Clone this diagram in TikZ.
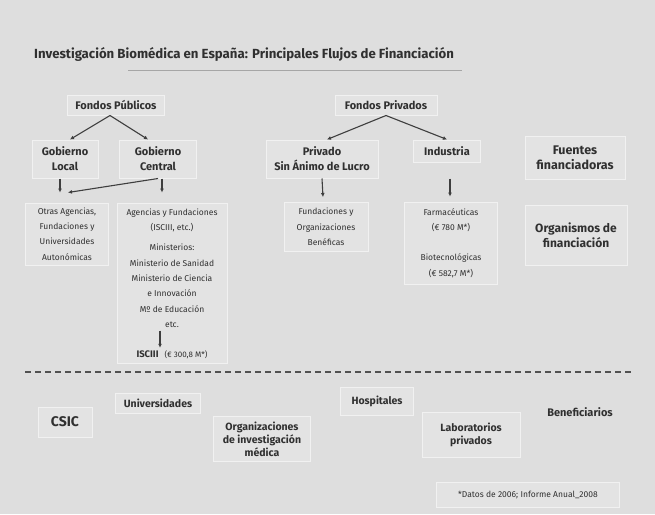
\documentclass[tikz,border=0pt]{standalone}
\usepackage{fontspec}
\setmainfont{Fira Sans}
\usetikzlibrary{arrows.meta}
\definecolor{fondo}{RGB}{222,222,222}
\definecolor{relleno}{RGB}{227,227,227}
\definecolor{borde}{RGB}{241,241,241}
\definecolor{texto}{RGB}{48,48,48}
\definecolor{linea}{RGB}{62,62,62}
\tikzset{
% flecha estandar
>={Latex[length=4pt,width=4pt]},
caja/.style={rectangle, draw=borde, line width=1pt, fill=relleno, align=center, inner sep=0, text=texto},
fuente/.style={font=\fontsize{11}{15}\selectfont\bfseries},
detalle/.style={font=\fontsize{8.5}{15.3}\selectfont},
rotulo/.style={font=\fontsize{12.5}{15}\selectfont\bfseries, text=texto, align=center, inner sep=0},
benef/.style={font=\fontsize{10.5}{13}\selectfont\bfseries},
flecha/.style={->, draw=linea, line width=1.1pt}
}

\begin{document}
\begin{tikzpicture}[x=1pt, y=-1pt]
  \useasboundingbox (0,0) rectangle (655,514);
  \fill[fondo] (0,0) rectangle (655,514);

  % titulo
  \node[rotulo, font=\fontsize{13.2}{15}\selectfont\bfseries, anchor=west] (titulo) at (34,54) {Investigación Biomédica en España: Principales Flujos de Financiación};
  \draw[gray!70, line width=0.8pt] ([xshift=94pt,yshift=-9pt]titulo.south west) -- ([xshift=8pt,yshift=-9pt]titulo.south east);

  % fuentes publicas
  \node[caja, fuente, minimum width=97pt, minimum height=20pt] (pub) at (116,105) {Fondos Públicos};
  \node[caja, fuente, minimum width=66pt, minimum height=38pt] (loc) at (65,159) {Gobierno\\Local};
  \node[caja, fuente, minimum width=77pt, minimum height=38pt] (cen) at (158,159) {Gobierno\\Central};

  % fuentes privadas
  \node[caja, fuente, minimum width=102pt, minimum height=20pt] (priv) at (386,105) {Fondos Privados};
  \node[caja, fuente, minimum width=112pt, minimum height=38pt] (sal) at (322,159) {Privado\\Sin Ánimo de Lucro};
  \node[caja, fuente, minimum width=67pt, minimum height=22pt] (ind) at (447,151) {Industria};

  \node[caja, rotulo, minimum width=100pt, minimum height=43pt] (fuentes) at (575,158) {Fuentes\\financiadoras};

  % organismos
  \node[caja, detalle, minimum width=83pt, minimum height=62pt] (otras) at (67,234) {Otras Agencias,\\Fundaciones y\\Universidades\\Autonómicas};
  \node[caja, minimum width=110pt, minimum height=160pt] (agen) at (172,283) {};
  \node[detalle, text=texto, align=center, inner sep=0] (agentxt) at (172,268) {Agencias y Fundaciones\\(ISCIII, etc.)\\[5pt]Ministerios:\\Ministerio de Sanidad\\Ministerio de Ciencia\\e Innovación\\Mº de Educación\\etc.};
  \node[text=texto, inner sep=0, font=\fontsize{8}{9}\selectfont] (isciii) at (172,355) {{\fontsize{9.5}{10}\selectfont\bfseries ISCIII}\hspace{6pt}(€ 300,8 M*)};

  \node[caja, detalle, minimum width=84pt, minimum height=49pt] (fund) at (326,227) {Fundaciones y\\Organizaciones\\Benéficas};
  \node[caja, detalle, minimum width=93pt, minimum height=82pt] (farm) at (451,243) {Farmacéuticas\\(€ 780 M*)\\[15pt]Biotecnológicas\\(€ 582,7 M*)};

  \node[caja, rotulo, font=\fontsize{12}{15}\selectfont\bfseries, minimum width=102pt, minimum height=60pt] (org) at (576,235) {Organismos de\\financiación};

  % flechas
  \draw[flecha] ([xshift=-6pt]pub.south) -- ([xshift=5pt]loc.north);
  \draw[flecha] ([xshift=-6pt]pub.south) -- ([xshift=-10pt]cen.north);
  \draw[flecha] (priv.south) -- ([xshift=5pt]sal.north);
  \draw[flecha] (priv.south) -- (ind.north);
  \draw[flecha] ([xshift=-5pt]loc.south) -- ([xshift=-7pt,yshift=10pt]otras.north);
  \draw[flecha] (cen.south) -- ([xshift=1pt,yshift=10pt]otras.north);
  \draw[flecha] ([xshift=4pt]cen.south) -- ([xshift=-10pt,yshift=10pt]agen.north);
  \draw[flecha] (sal.south) -- ([xshift=-3pt,yshift=5pt]fund.north);
  \draw[flecha] ([xshift=3pt,yshift=-16pt]ind.south) -- ([xshift=-1pt,yshift=5pt]farm.north);
  \draw[flecha] ([xshift=-12pt,yshift=-3pt]agentxt.south) -- ([xshift=-12pt,yshift=3pt]isciii.north);

  % separacion
  \coordinate (sepizq) at (25,372);
  \coordinate (sepder) at (632,372);
  \draw[linea!90, line width=2.6pt, dash pattern=on 6pt off 4pt] (sepizq) -- (sepder);

  % beneficiarios
  \node[caja, font=\fontsize{14}{15}\selectfont\bfseries, minimum width=54pt, minimum height=30pt] (csic) at (65,422) {CSIC};
  \node[caja, benef, minimum width=85pt, minimum height=20pt] (univ) at (158,403) {Universidades};
  \node[caja, benef, minimum width=97pt, minimum height=45pt] (orgmed) at (262,439) {Organizaciones\\de investigación\\médica};
  \node[caja, benef, minimum width=73pt, minimum height=28pt] (hosp) at (377,401) {Hospitales};
  \node[caja, benef, minimum width=98pt, minimum height=45pt] (lab) at (471,435) {Laboratorios\\privados};
  \node[rotulo, font=\fontsize{11}{13}\selectfont\bfseries] (benefic) at (580,412) {Beneficiarios};

  \node[caja, font=\fontsize{8.5}{9}\selectfont, minimum width=183pt, minimum height=25pt] (nota) at (528,495) {*Datos de 2006; Informe Anual\_2008};
\end{tikzpicture}
\end{document}
